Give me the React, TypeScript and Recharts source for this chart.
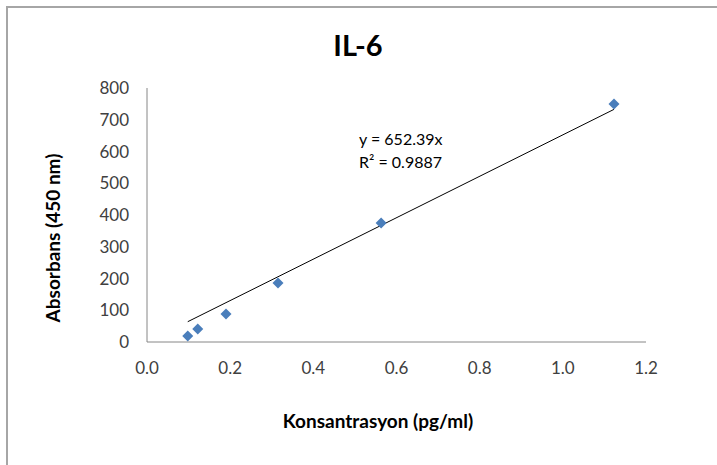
import React from 'react';
import { ScatterChart, Scatter, XAxis, YAxis } from 'recharts';

// values
const concentrations = [0.098, 0.122, 0.19, 0.315, 0.563, 1.123];
const absorbances = [19, 41, 88, 186, 375, 750];
const xTicks = [0, 0.2, 0.4, 0.6, 0.8, 1.0, 1.2];
const yTicks = [0, 100, 200, 300, 400, 500, 600, 700, 800];
const slope = 652.39;
const rSquared = 0.9887;

const points = concentrations.map((x, i) => ({ x, y: absorbances[i] }));
const xMin = Math.min(...concentrations);
const xMax = Math.max(...concentrations);
const trend = [
  { x: xMin, y: slope * xMin },
  { x: xMax, y: slope * xMax },
];

const FONT = 'Lato, Calibri, sans-serif';
const BLUE = '#4a7ebb';

const Diamond = (props: any) => {
  const { cx, cy } = props;
  if (cx == null || cy == null) return <g />;
  const r = 5.5;
  return (
    <polygon
      points={`${cx},${cy - r} ${cx + r},${cy} ${cx},${cy + r} ${cx - r},${cy}`}
      fill={BLUE}
    />
  );
};

const NoDot = () => <g />;

export default function App() {
  const tickStyle = { fontSize: 17, fill: '#404040', fontFamily: FONT };
  return (
    <div style={{ position: 'absolute', left: 0, top: 0, width: 717, height: 465, background: '#fff', fontFamily: FONT }}>
      <div style={{ position: 'absolute', left: 6, top: 6, width: 711, height: 459, borderTop: '2px solid #a6a6a6', borderLeft: '2px solid #a6a6a6', boxSizing: 'border-box' }} />
      <ScatterChart width={717} height={465} margin={{ top: 88, right: 71, bottom: 93, left: 87 }}>
        <XAxis
          type="number"
          dataKey="x"
          domain={[0, 1.2]}
          ticks={xTicks}
          tickFormatter={(v: number) => v.toFixed(1)}
          stroke="#868686"
          tickLine={false}
          tickSize={0}
          tickMargin={20}
          height={30}
          tick={tickStyle}
          allowDataOverflow
        />
        <YAxis
          type="number"
          dataKey="y"
          domain={[0, 800]}
          ticks={yTicks}
          stroke="#868686"
          tickLine={false}
          tickSize={0}
          tickMargin={18}
          width={60}
          tick={tickStyle}
          allowDataOverflow
        />
        <Scatter
          data={trend}
          line={{ stroke: '#000', strokeWidth: 1 }}
          shape={NoDot}
          isAnimationActive={false}
        />
        <Scatter data={points} shape={Diamond} isAnimationActive={false} />
      </ScatterChart>
      <div style={{ position: 'absolute', left: 358, top: 44, transform: 'translate(-50%, -50%)', fontSize: 29, fontWeight: 700, color: '#000' }}>
        IL-6
      </div>
      <div style={{ position: 'absolute', left: 359, top: 127, fontSize: 16, lineHeight: '23px', color: '#000' }}>
        <div>y = {slope}x</div>
        <div>R² = {rSquared}</div>
      </div>
      <div style={{ position: 'absolute', left: 378, top: 420, transform: 'translate(-50%, -50%)', fontSize: 19, fontWeight: 700, color: '#000', whiteSpace: 'nowrap' }}>
        Konsantrasyon (pg/ml)
      </div>
      <div style={{ position: 'absolute', left: 52, top: 238, transform: 'translate(-50%, -50%) rotate(-90deg)', fontSize: 19, fontWeight: 700, color: '#000', whiteSpace: 'nowrap' }}>
        Absorbans (450 nm)
      </div>
    </div>
  );
}
